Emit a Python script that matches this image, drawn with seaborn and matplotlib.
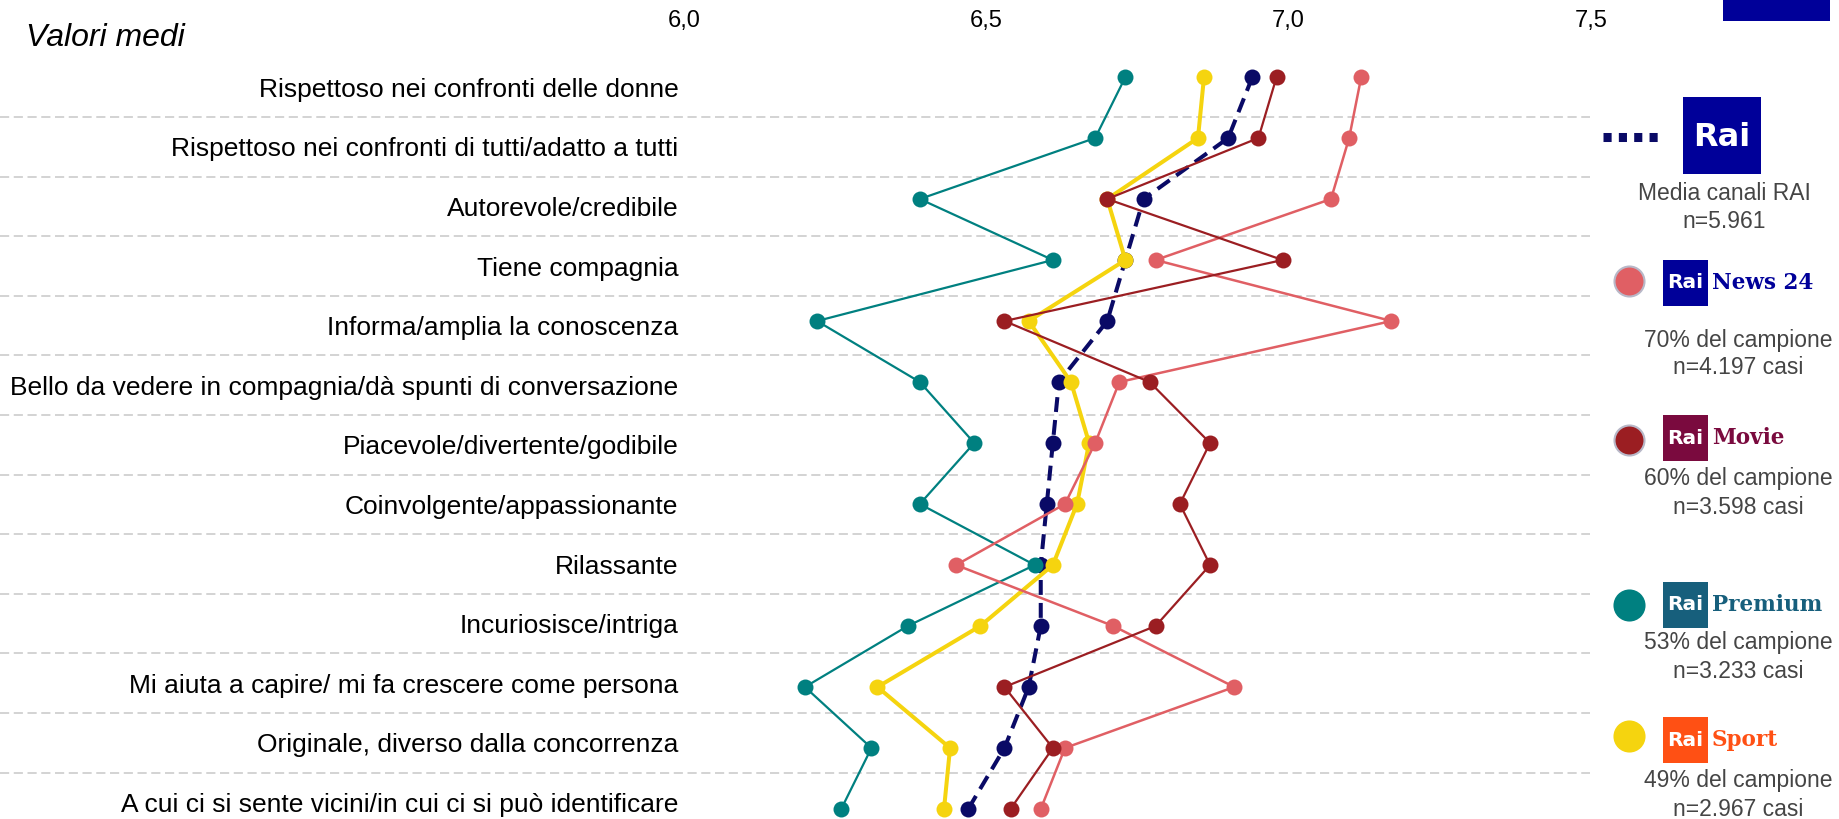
import numpy as np
import matplotlib
matplotlib.use("Agg")
import matplotlib.pyplot as plt
from matplotlib.patches import Rectangle
import seaborn as sns

categories = [
    "Rispettoso nei confronti delle donne",
    "Rispettoso nei confronti di tutti/adatto a tutti",
    "Autorevole/credibile",
    "Tiene compagnia",
    "Informa/amplia la conoscenza",
    "Bello da vedere in compagnia/dà spunti di conversazione",
    "Piacevole/divertente/godibile",
    "Coinvolgente/appassionante",
    "Rilassante",
    "Incuriosisce/intriga",
    "Mi aiuta a capire/ mi fa crescere come persona",
    "Originale, diverso dalla concorrenza",
    "A cui ci si sente vicini/in cui ci si può identificare",
]

media_rai = [6.94, 6.90, 6.76, 6.73, 6.70, 6.62, 6.61, 6.60, 6.59, 6.59, 6.57, 6.53, 6.47]
rai_news24 = [7.12, 7.10, 7.07, 6.78, 7.17, 6.72, 6.68, 6.63, 6.45, 6.71, 6.91, 6.63, 6.59]
rai_movie = [6.98, 6.95, 6.70, 6.99, 6.53, 6.77, 6.87, 6.82, 6.87, 6.78, 6.53, 6.61, 6.54]
rai_premium = [6.73, 6.68, 6.39, 6.61, 6.22, 6.39, 6.48, 6.39, 6.58, 6.37, 6.20, 6.31, 6.26]
rai_sport = [6.86, 6.85, 6.70, 6.73, 6.57, 6.64, 6.67, 6.65, 6.61, 6.49, 6.32, 6.44, 6.43]

x_ticks = [6.0, 6.5, 7.0, 7.5]
x_ticklabels = ["6,0", "6,5", "7,0", "7,5"]

NAVY = "#0a0a66"
LIGHTRED = "#e05f64"
DARKRED = "#9b1e22"
TEAL = "#008080"
YELLOW = "#f5d40f"

sns.set_theme(style="white")
plt.rcParams["font.family"] = ["Liberation Sans", "DejaVu Sans"]

W, H = 1839, 819
fig = plt.figure(figsize=(W / 100, H / 100), dpi=100)
fig.patch.set_facecolor("white")

# main plot area: 6,0 at ~684px, 7,5 at ~1591px
ax = fig.add_axes([684 / W, 0, (1591 - 684) / W, 1 - 50 / H])
rows = np.arange(len(categories))

# dashed separators reaching under the labels
for yy in np.arange(12) * 0.977 + 0.656:
    ax.axhline(yy, xmin=-684 / 907, xmax=0.999, color="#c8c8c8", lw=1.1,
               ls=(0, (6, 3)), clip_on=False, zorder=0)

series = [
    (media_rai, NAVY, 2.9, (0, (3.7, 2.0)), 2),
    (rai_premium, TEAL, 1.6, "-", 3),
    (rai_sport, YELLOW, 2.9, "-", 4),
    (rai_news24, LIGHTRED, 1.8, "-", 5),
    (rai_movie, DARKRED, 1.6, "-", 6),
]
for vals, col, lw, ls, z in series:
    sns.lineplot(x=vals, y=rows, sort=False, estimator=None, ax=ax, color=col,
                 linewidth=lw, linestyle=ls, marker="o", markersize=11.5,
                 markeredgewidth=0, markeredgecolor=col, zorder=z)

ax.set_xlim(6.0, 7.5)
ax.set_ylim(12.164, -0.443)
ax.xaxis.tick_top()
ax.set_xticks(x_ticks)
ax.set_xticklabels(x_ticklabels, fontsize=17, color="black")
ax.set_yticks(np.arange(13) * 0.977 + 0.17)
ax.set_yticklabels(categories, fontsize=19, color="black")
ax.tick_params(axis="x", length=0, pad=13)
ax.tick_params(axis="y", length=0, pad=4)
ax.set_xlabel("")
ax.set_ylabel("")
for s in ax.spines.values():
    s.set_visible(False)
ax.set_facecolor("none")

fig.text(26 / W, 1 - 38 / H, "Valori medi", fontsize=23, style="italic",
         va="center", ha="left", color="black")

# legend panel in pixel coordinates
lg = fig.add_axes([0, 0, 1, 1])
lg.set_xlim(0, W)
lg.set_ylim(H, 0)
lg.axis("off")
lg.patch.set_alpha(0)

lg.add_patch(Rectangle((1723, 0), 107, 21, color="#000099", lw=0))
lg.plot([1603, 1663], [137, 137], color=NAVY, lw=6.5, ls=(0, (0.9, 0.8)),
        solid_capstyle="butt", dash_capstyle="butt")
lg.add_patch(Rectangle((1683, 97), 78, 77, color="#000099", lw=0))
lg.text(1722, 137, "Rai", color="white", fontsize=23, fontweight="bold",
        family="DejaVu Sans", ha="center", va="center")

grey = "#454545"
lg.text(1724, 193, "Media canali RAI", fontsize=16.5, color=grey, ha="center", va="center")
lg.text(1724, 222, "n=5.961", fontsize=16.5, color=grey, ha="center", va="center")

brands = [
    ("News 24", "#000099", LIGHTRED, 281, 260, "70% del campione", "n=4.197 casi", 340, "#b8b8c8"),
    ("Movie", "#7a0a3e", DARKRED, 440, 415, "60% del campione", "n=3.598 casi", 479, "#b8b8c8"),
    ("Premium", "#175f7c", TEAL, 605, 582, "53% del campione", "n=3.233 casi", 643, TEAL),
    ("Sport", "#ff5014", YELLOW, 736, 717, "49% del campione", "n=2.967 casi", 781, YELLOW),
]
for name, bcol, dot, ydot, ybox, l1, l2, ytxt, ecol in brands:
    lg.plot([1629], [ydot], "o", ms=21.6, color=dot, mec=ecol, mew=1.5)
    lg.add_patch(Rectangle((1663, ybox), 45, 46, color=bcol, lw=0))
    lg.text(1685.5, ybox + 23, "Rai", color="white", fontsize=14.5, fontweight="bold",
            family="DejaVu Sans", ha="center", va="center")
    lg.text(1712, ybox + 23, name, color=bcol, fontsize=15.5, fontweight="bold",
            family="DejaVu Serif", ha="left", va="center")
    lg.text(1738, ytxt, l1, fontsize=16.5, color=grey, ha="center", va="center")
    lg.text(1738, ytxt + 28, l2, fontsize=16.5, color=grey, ha="center", va="center")

fig.savefig("out.png", dpi=100, facecolor="white")
